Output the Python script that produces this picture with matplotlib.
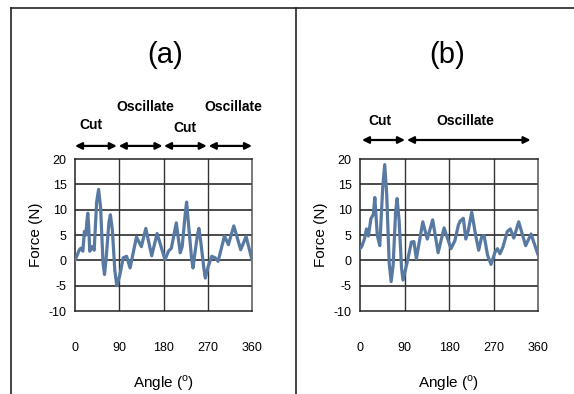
import numpy as np
import matplotlib
matplotlib.use("Agg")
import matplotlib.pyplot as plt
from matplotlib.lines import Line2D
import matplotlib.transforms as mtransforms

plt.rcParams['font.family'] = ['Liberation Sans', 'DejaVu Sans']

# panel (a) force vs angle
angle_a = [0, 9, 12, 16, 19, 22, 24, 26, 28, 30, 35, 39, 44, 48, 52, 57, 60, 63, 69, 72, 76, 81, 85, 91, 98, 105,
           112, 125, 135, 144, 156, 167, 183, 190, 196, 206, 214, 218, 224, 227, 231, 237, 240, 244, 249, 252, 256,
           262, 265, 271, 278, 285, 291, 304, 312, 323, 337, 348, 360]
force_a = [0, 2.1, 2.4, 1.8, 5.7, 5.0, 7.5, 9.3, 6.5, 1.8, 2.7, 2.0, 11.5, 14.0, 10.5, -0.5, -2.8, 0.0, 7.5, 9.0, 6.0,
           -2.0, -5.0, -3.0, 0.5, 0.8, -1.5, 4.6, 2.7, 6.3, 0.9, 5.3, 0.1, 1.8, 2.4, 7.4, 1.5, 2.7, 9.0, 11.5, 7.0,
           0.5, -1.5, 1.5, 5.0, 6.3, 3.5, -1.5, -3.5, -1.2, 0.8, 0.5, -0.2, 4.8, 3.1, 6.8, 2.1, 4.7, 0.1]

# panel (b)
angle_b = [0, 3, 9, 13, 17, 22, 27, 30, 35, 40, 46, 50, 54, 59, 63, 67, 72, 75, 79, 84, 87, 94, 104, 109, 114, 127,
           136, 147, 158, 170, 184, 192, 199, 203, 209, 214, 219, 226, 234, 240, 246, 251, 258, 265, 273, 278, 283,
           289, 298, 304, 311, 321, 335, 346, 360]
force_b = [2.3, 2.6, 4.2, 6.2, 4.8, 8.2, 9.1, 12.4, 4.9, 2.9, 14.5, 18.9, 13.0, -0.5, -4.2, -1.0, 9.5, 12.2, 8.0,
           -1.5, -3.9, -1.0, 3.6, 3.7, 0.3, 7.6, 4.2, 8.0, 1.5, 6.4, 2.3, 3.9, 7.0, 7.8, 8.3, 4.2, 5.9, 9.5, 4.9,
           2.0, 4.6, 4.9, 1.0, -0.8, 1.6, 2.3, 1.3, 2.6, 5.7, 6.2, 4.4, 7.6, 2.9, 5.2, 1.1]

xticks = [0, 90, 180, 270, 360]
yticks = [-10, -5, 0, 5, 10, 15, 20]

# phase annotations: (start, end) of arrows, (label, x centre, y in axes frac)
arrows_a = [(0, 85), (89, 178), (181, 268), (272, 360)]
labels_a = [("Cut", 33, 1.224), ("Oscillate", 142, 1.342), ("Cut", 224, 1.204), ("Oscillate", 322, 1.342)]
arrows_b = [(4, 91), (95, 345)]
labels_b = [("Cut", 40, 1.25), ("Oscillate", 212, 1.25)]

W, H = 574, 394
fig = plt.figure(figsize=(W / 100, H / 100), dpi=100)

line_col = "#5879a2"


def make_panel(left, width, x, y, arrows, labels, arrow_y, title, title_x):
    ax = fig.add_axes([left / W, (H - 311) / H, width / W, 152 / H])
    ax.plot(x, y, color=line_col, lw=2.3, solid_joinstyle='round', solid_capstyle='round', zorder=3)
    ax.set_xlim(0, 360)
    ax.set_ylim(-10, 20)
    ax.set_xticks(xticks)
    ax.set_yticks(yticks)
    ax.set_xticklabels([str(t) for t in xticks], fontsize=9)
    ax.set_yticklabels([str(t) for t in yticks], fontsize=9)
    ax.tick_params(axis='both', length=0)
    ax.tick_params(axis='x', pad=22)
    ax.tick_params(axis='y', pad=6)
    for t in [-5, 0, 5, 10, 15]:
        ax.axhline(t, color='#1a1a1a', lw=1.1, zorder=1)
    for t in [90, 180, 270]:
        ax.axvline(t, color='#333333', lw=1.0, zorder=1)
    for s in ax.spines.values():
        s.set_color('#222222')
        s.set_linewidth(1.1)
    ax.spines['right'].set_color('#555555')
    ax.set_xlabel('Angle ($^\\mathregular{o}$)', fontsize=11, labelpad=14)
    ax.set_ylabel('Force (N)', fontsize=11, labelpad=4)

    trans = mtransforms.blended_transform_factory(ax.transData, ax.transAxes)
    for a0, a1 in arrows:
        ax.annotate('', xy=(a1, arrow_y), xytext=(a0, arrow_y), xycoords=trans, textcoords=trans,
                    arrowprops=dict(arrowstyle='<|-|>', color='black', lw=1.6,
                                    mutation_scale=10, shrinkA=0, shrinkB=0),
                    annotation_clip=False)
    for txt, xc, yc in labels:
        ax.text(xc, yc, txt, transform=trans, ha='center', va='center',
                fontsize=10, fontweight='bold', clip_on=False)
    fig.text(title_x / W, 1 - 55 / H, title, ha='center', va='center', fontsize=21)
    return ax


make_panel(75, 177, angle_a, force_a, arrows_a, labels_a, 1.086, '(a)', 165)
make_panel(360, 178, angle_b, force_b, arrows_b, labels_b, 1.125, '(b)', 447)

# outer frame lines
fig.add_artist(Line2D([11 / W, 11 / W], [0, 1 - 8 / H], color='#222222', lw=1.2))
fig.add_artist(Line2D([11 / W, 1], [1 - 8 / H, 1 - 8 / H], color='#222222', lw=1.2))
fig.add_artist(Line2D([296 / W, 296 / W], [0, 1 - 8 / H], color='#222222', lw=1.2))

fig.savefig('out.png', dpi=100)
